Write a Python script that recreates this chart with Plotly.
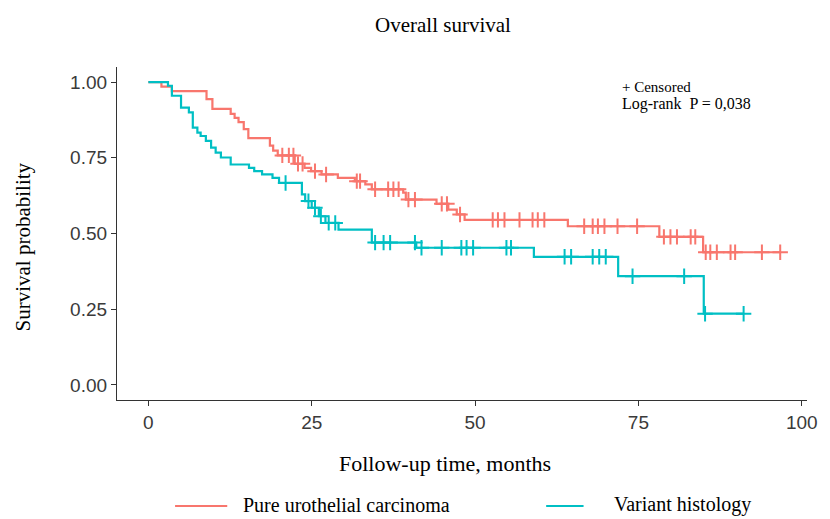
import numpy as np
import plotly.graph_objects as go

# ---------------- data ----------------
group_names = ["Pure urothelial carcinoma", "Variant histology"]

pure_event_times = [0, 2.0, 3.6, 8.9, 9.8, 12.6, 13.2, 13.8, 14.6, 15.3, 18.6, 19.1, 19.8,
                    22.4, 23.9, 24.9, 26.5, 29.0, 31.6, 33.2, 34.2, 39.0, 39.4, 44.1, 45.9,
                    47.2, 48.4, 64.2, 78.2, 84.9]
pure_survival = [1.0, 0.985, 0.97, 0.944, 0.912, 0.895, 0.882, 0.868, 0.845, 0.815, 0.79,
                 0.774, 0.758, 0.73, 0.717, 0.706, 0.695, 0.684, 0.673, 0.662, 0.646, 0.635,
                 0.612, 0.598, 0.579, 0.563, 0.545, 0.524, 0.489, 0.438]
pure_end_time = 96.7
pure_censored = [20.5, 21.5, 22.2, 22.9, 23.6, 25.5, 27.2, 31.9, 32.4, 34.7, 36.7, 37.5, 38.3,
                 39.8, 40.8, 44.9, 45.7, 47.7, 52.7, 53.5, 54.5, 56.8, 58.8, 59.6, 60.6, 66.7,
                 68.0, 68.8, 69.8, 71.8, 74.8, 78.9, 79.9, 80.9, 83.0, 83.7, 85.3, 86.0, 87.0,
                 89.1, 89.8, 93.9, 96.7]

variant_event_times = [0, 3.0, 3.6, 5.0, 6.2, 6.8, 7.5, 8.0, 8.8, 9.6, 10.3, 11.1, 12.6, 15.4,
                       16.2, 17.4, 19.0, 20.0, 23.5, 24.0, 25.0, 26.1, 27.1, 29.1, 34.2, 41.0,
                       59.0, 71.9, 85.0]
variant_survival = [1.0, 0.988, 0.955, 0.916, 0.9, 0.85, 0.833, 0.822, 0.806, 0.784, 0.767,
                    0.751, 0.728, 0.717, 0.706, 0.695, 0.684, 0.667, 0.629, 0.607, 0.585,
                    0.557, 0.535, 0.513, 0.47, 0.453, 0.423, 0.359, 0.235]
variant_end_time = 91.1
variant_censored = [21.0, 24.5, 25.5, 26.4, 27.6, 28.6, 34.7, 36.0, 37.0, 40.8, 41.8, 44.9,
                    47.9, 48.7, 49.7, 54.8, 55.5, 63.7, 64.7, 68.0, 69.0, 70.0, 74.1, 82.0,
                    85.2, 91.1]

x_ticks = [0, 25, 50, 75, 100]
y_ticks = [0.0, 0.25, 0.50, 0.75, 1.00]
y_tick_labels = ["0.00", "0.25", "0.50", "0.75", "1.00"]

colors = ["#F8766D", "#00BFC4"]
SERIF = "Liberation Serif"
SANS = "Liberation Sans"


def step_at(times, surv, t):
    idx = np.searchsorted(np.asarray(times), np.asarray(t), side="right") - 1
    return np.asarray(surv)[idx]


fig = go.Figure()
groups = [
    (pure_event_times, pure_survival, pure_end_time, pure_censored),
    (variant_event_times, variant_survival, variant_end_time, variant_censored),
]
for (et, sv, end, cens), name, col in zip(groups, group_names, colors):
    xs = list(et) + [end]
    ys = list(sv) + [sv[-1]]
    fig.add_trace(go.Scatter(x=xs, y=ys, mode="lines", line=dict(color=col, width=2.2, shape="hv"),
                             name=name, showlegend=False, hoverinfo="skip"))
    fig.add_trace(go.Scatter(x=cens, y=step_at(et, sv, cens), mode="markers",
                             marker=dict(symbol="cross-thin", size=11, line=dict(color=col, width=2)),
                             showlegend=False, hoverinfo="skip"))

L, R, T, B = 117, 12, 67, 119
W, H = 830, 519
pw, ph = W - L - R, H - T - B


def px(xp):
    return (xp - L) / pw


def py(yp):
    return (H - B - yp) / ph


fig.update_layout(
    width=W, height=H,
    margin=dict(l=L, r=R, t=T, b=B),
    paper_bgcolor="white", plot_bgcolor="white",
    xaxis=dict(range=[-4.8, 100.8], tickvals=x_ticks, showgrid=False, zeroline=False,
               showline=True, linecolor="#333333", linewidth=1.3, ticks="outside", ticklen=5,
               tickcolor="#333333", tickfont=dict(family=SANS, size=19, color="#3a3a3a")),
    yaxis=dict(range=[-0.05, 1.05], tickvals=y_ticks, ticktext=y_tick_labels, showgrid=False,
               zeroline=False, showline=True, linecolor="#333333", linewidth=1.3,
               ticks="outside", ticklen=5, tickcolor="#333333",
               tickfont=dict(family=SANS, size=19, color="#3a3a3a")),
)

annots = [
    dict(text="Overall survival", x=px(448), y=py(25), font=dict(family=SERIF, size=21)),
    dict(text="Follow-up time, months", x=px(450), y=py(463), font=dict(family=SERIF, size=22)),
    dict(text="Survival probability", x=px(22), y=py(247), textangle=-90,
         font=dict(family=SERIF, size=21)),
    dict(text="+ Censored", x=px(628), y=py(87), xanchor="left", font=dict(family=SERIF, size=15)),
    dict(text="Log-rank  P = 0,038", x=px(628), y=py(104), xanchor="left",
         font=dict(family=SERIF, size=16)),
]
for a in annots:
    a.setdefault("xanchor", "center")
    fig.add_annotation(xref="paper", yref="paper", yanchor="middle", showarrow=False,
                       font_color="black", **a)

# manual legend
legend_items = [(176, 229, 243), (553, 591, 620)]
for (x0, x1, xt), name, col in zip(legend_items, group_names, colors):
    fig.add_shape(type="line", xref="paper", yref="paper", x0=px(x0), x1=px(x1),
                  y0=py(506), y1=py(506), line=dict(color=col, width=2))
    fig.add_annotation(xref="paper", yref="paper", x=px(xt), y=py(505), xanchor="left",
                       yanchor="middle", showarrow=False, text=name,
                       font=dict(family=SERIF, size=20, color="black"))

fig.write_html("out.html", config={"displayModeBar": False},
               post_script="document.body.style.margin='0';")
